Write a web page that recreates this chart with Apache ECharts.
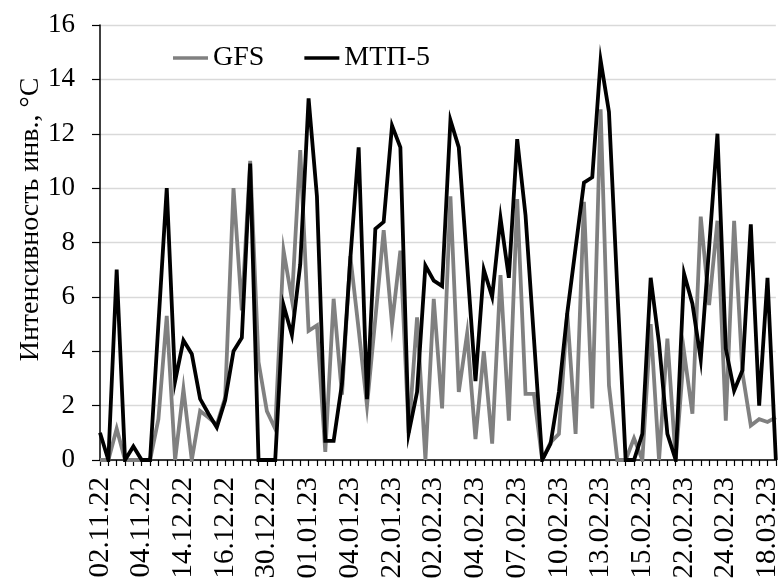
<!DOCTYPE html>
<html>
<head>
<meta charset="utf-8">
<script src="https://cdn.jsdelivr.net/npm/echarts@6/dist/echarts.min.js"></script>
<style>
html,body{margin:0;padding:0;background:#fff;}
#chart{width:782px;height:585px;}
</style>
</head>
<body>
<div id="chart"></div>
<script>
// Tick labels shown every 5th category
var tickLabels = ['02.11.22','04.11.22','14.12.22','16.12.22','30.12.22','01.01.23','04.01.23','22.01.23',
  '02.02.23','04.02.23','07.02.23','10.02.23','13.02.23','15.02.23','22.02.23','24.02.23','18.03.23'];

var gfs = [0,0,1.15,0,0,0,0,1.5,5.3,0,
  2.6,0,1.8,1.56,1.3,2.3,10.0,5.5,11.0,3.6,
  1.8,1.15,7.7,5.9,11.4,4.75,4.95,0.3,5.93,2.4,
  7.5,4.8,2.0,5.2,8.45,5.0,7.7,1.0,5.25,0,
  5.93,1.9,9.7,2.5,4.65,0.77,4.0,0.6,6.8,1.45,
  9.6,2.43,2.43,0,0.65,0.96,5.4,0.96,9.5,1.9,
  12.9,2.74,0,0,0.8,0,5.0,0,4.46,0,
  3.97,1.7,8.95,5.7,8.8,1.45,8.8,3.2,1.27,1.5,
  1.4,1.57];

var mtp5 = [1.0,0,7.0,0,0.5,0,0,5.0,10.0,2.9,
  4.4,3.9,2.25,1.7,1.2,2.2,4.0,4.5,10.9,0,
  0,0,5.7,4.6,7.2,13.3,9.7,0.7,0.7,2.8,
  7.4,11.5,2.24,8.5,8.76,12.3,11.5,1.0,2.5,7.15,
  6.6,6.4,12.5,11.5,7.2,2.9,7.0,6.0,8.9,6.7,
  11.8,9.0,4.5,0,0.6,2.5,5.4,7.8,10.2,10.4,
  14.7,12.8,6.3,0,0,0.96,6.7,4.3,0.96,0,
  6.85,5.75,3.7,7.8,12.0,4.1,2.55,3.3,8.67,2.0,
  6.7,0];

var categories = [];
for (var i = 0; i < mtp5.length; i++) {
  categories.push(i % 5 === 0 ? tickLabels[i / 5] : 'd' + i);
}

var FONT = "'Liberation Serif','Times New Roman',serif";
var chart = echarts.init(document.getElementById('chart'), null, {renderer: 'canvas'});
chart.setOption({
  animation: false,
  backgroundColor: '#ffffff',
  textStyle: {fontFamily: FONT},
  legend: {
    left: 168,
    top: 39,
    itemWidth: 35,
    itemHeight: 14,
    itemGap: 40,
    textStyle: {fontFamily: FONT, fontSize: 28, color: '#000'},
    data: [
      {name: 'GFS', icon: 'path://M0,5.5 L35,5.5 L35,9 L0,9 Z', itemStyle: {color: '#808080'}},
      {name: 'МТП-5', icon: 'path://M0,5.5 L35,5.5 L35,9 L0,9 Z', itemStyle: {color: '#000000'}}
    ]
  },
  grid: {left: 100, right: 2, top: 25, bottom: 125, containLabel: false},
  xAxis: {
    type: 'category',
    data: categories,
    boundaryGap: false,
    axisLine: {show: true, lineStyle: {color: '#000', width: 1.5}},
    axisTick: {show: true, interval: 0, length: 6, lineStyle: {color: '#000', width: 1.2}},
    axisLabel: {
      interval: 4,
      rotate: 90,
      margin: 17,
      fontFamily: FONT,
      fontSize: 29,
      color: '#000'
    },
    splitLine: {show: false}
  },
  yAxis: {
    type: 'value',
    min: 0,
    max: 16,
    interval: 2,
    name: 'Интенсивность инв., °C',
    nameLocation: 'middle',
    nameRotate: 90,
    nameGap: 55,
    nameMoveOverlap: false,
    nameTextStyle: {fontFamily: FONT, fontSize: 28, color: '#000', padding: [0, 0, 0, 46]},
    axisLine: {show: true, lineStyle: {color: '#000', width: 1.5}},
    axisTick: {show: true, length: 8, lineStyle: {color: '#000', width: 1.2}},
    axisLabel: {margin: 25, fontFamily: FONT, fontSize: 27, color: '#000'},
    splitLine: {show: true, lineStyle: {color: '#d9d9d9', width: 1.3}}
  },
  series: [
    {
      name: 'GFS',
      type: 'line',
      data: gfs,
      symbol: 'none',
      lineStyle: {color: '#808080', width: 3.8, join: 'miter'},
      itemStyle: {color: '#808080'},
      z: 2
    },
    {
      name: 'МТП-5',
      type: 'line',
      data: mtp5,
      symbol: 'none',
      lineStyle: {color: '#000000', width: 3.8, join: 'miter'},
      itemStyle: {color: '#000000'},
      z: 3
    }
  ]
});
</script>
</body>
</html>
